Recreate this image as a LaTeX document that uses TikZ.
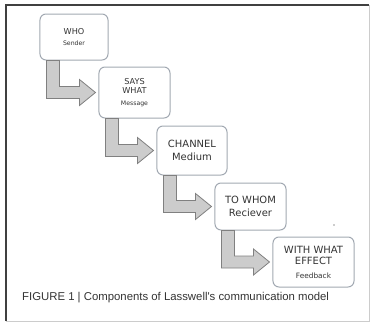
\documentclass[tikz,border=0pt]{standalone}
\usepackage{fontspec}
\setmainfont{DejaVu Sans}
\newfontfamily\captionfont{Liberation Sans}
\usetikzlibrary{calc}

\definecolor{boxline}{HTML}{A2A9B2}
\definecolor{inkgray}{HTML}{333333}

% block arrow from below one box into the side of the next
\newcommand{\stepflow}[2]{%
  \draw[flowarrow] let \p1 = (#1.south west), \p2 = (#2.west) in
    (\x1+7bp,\y1) -- (\x1+7bp,\y2-6bp) -- (\x2-19bp,\y2-6bp)
    -- (\x2-19bp,\y2-13bp) -- (\x2-3bp,\y2) -- (\x2-19bp,\y2+13bp)
    -- (\x2-19bp,\y2+6bp) -- (\x1+20bp,\y2+6bp) -- (\x1+20bp,\y1) -- cycle;}

\begin{document}
\begin{tikzpicture}
  [x=1bp, y=-1bp,
   stage/.style = {draw=boxline, line width=1bp, fill=white,
                   rounded corners=6bp, align=center, text=inkgray,
                   font=\fontsize{10}{11.5}\selectfont, inner sep=0pt},
   flowarrow/.style = {draw=black!50, fill=black!20, line width=0.8bp}]

\useasboundingbox (0,0) rectangle (372,322);

% Frame
\draw[black!75, line width=1.2bp] (6,321) -- (6,5) -- (369,5);
\draw[black!20, line width=1bp] (369,5) -- (369,321) -- (6,321);

% Stages
\node[stage, minimum width=68bp, minimum height=46bp,
      font=\fontsize{8.2}{9.5}\selectfont] (who) at (74,37)
  {WHO\\[1bp]{\fontsize{6.2}{8}\selectfont Sender}};
\node[stage, minimum width=71bp, minimum height=51bp,
      font=\fontsize{8.2}{9.5}\selectfont] (says) at (134.5,92.5)
  {SAYS\\WHAT\\[2bp]{\fontsize{6.2}{8}\selectfont Message}};
\node[stage, minimum width=70bp, minimum height=49bp] (channel) at (192,150.5)
  {CHANNEL\\[2bp]Medium};
\node[stage, minimum width=71bp, minimum height=47bp] (whom) at (250.5,206.5)
  {TO WHOM\\[2bp]Reciever};
\node[stage, minimum width=81bp, minimum height=50bp] (effect) at (313.5,262)
  {WITH WHAT\\EFFECT\\[2bp]{\fontsize{7.4}{9}\selectfont Feedback}};

% Arrows
\foreach \a/\b in {who/says, says/channel, channel/whom, whom/effect}
  \stepflow{\a}{\b};

% stray mark
\fill[black!40] (334,225) circle (0.8bp);

% Caption
\node[font=\captionfont\fontsize{11.4}{13}\selectfont, text=inkgray, anchor=west,
      inner sep=0pt] (caption) at (22,298)
  {FIGURE 1 | Components of Lasswell's communication model};

\end{tikzpicture}
\end{document}
